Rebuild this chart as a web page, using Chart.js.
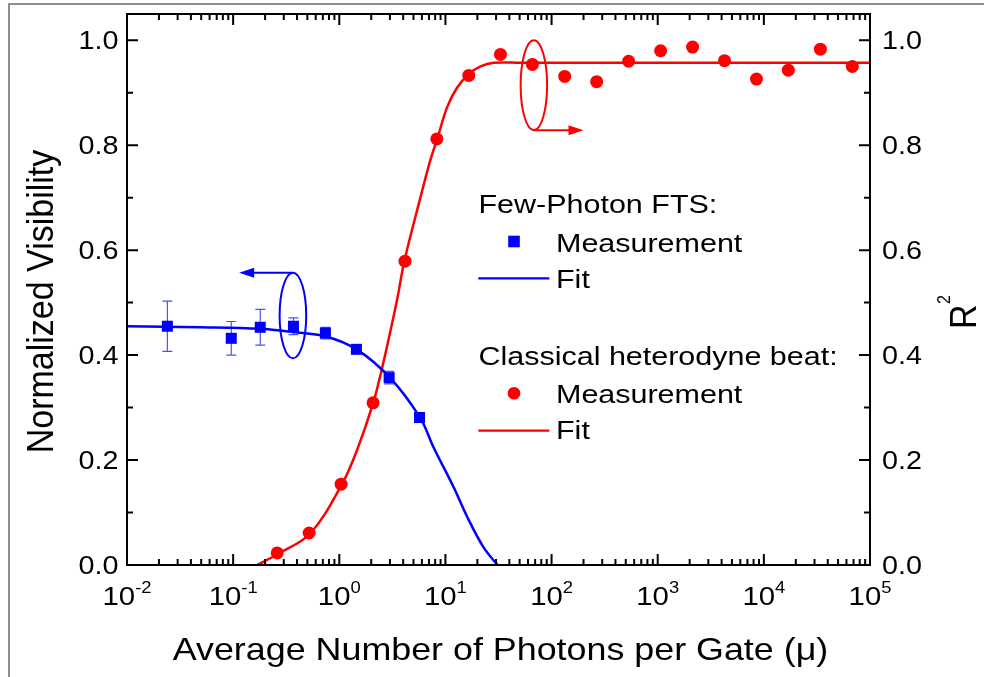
<!DOCTYPE html>
<html><head><meta charset="utf-8">
<script src="https://cdn.jsdelivr.net/npm/chart.js@4/dist/chart.umd.min.js"></script>
<style>html,body{margin:0;padding:0;background:#fff;overflow:hidden}</style>
</head><body>
<canvas id="c" width="984" height="677"></canvas>
<script>
// ---- Data ----
const blueX   = [0.024, 0.096, 0.18, 0.37, 0.74, 1.45, 2.95, 5.7];
const blueY   = [0.455, 0.432, 0.453, 0.455, 0.442, 0.411, 0.357, 0.281];
const blueErr = [0.048, 0.032, 0.034, 0.016, 0.011, 0.008, 0.012, 0.008];
const blueFitX = [0.01, 0.049, 0.18, 0.368, 0.738, 1.48, 3.03, 5.8, 7.7, 11.9, 16.1, 22.8, 30.9];
const blueFitY = [0.455, 0.453, 0.450, 0.444, 0.436, 0.410, 0.356, 0.280, 0.225, 0.149, 0.091, 0.034, 0.0];
const redX = [0.26, 0.52, 1.04, 2.08, 4.16, 8.3, 16.6, 33, 66, 133, 266, 532, 1065, 2130, 4260, 8520, 17000, 34100, 68200];
const redY = [0.023, 0.061, 0.154, 0.309, 0.579, 0.812, 0.933, 0.973, 0.954, 0.931, 0.921, 0.960, 0.980, 0.987, 0.961, 0.926, 0.943, 0.983, 0.950];
const redFitX = [0.1675, 0.264, 0.532, 1.06, 1.47, 2.08, 2.53, 3.50, 4.10, 5.81, 7.2, 8.4, 10.4, 12.9, 16.5, 21.4, 28.4, 51, 100000];
const redFitY = [0, 0.021, 0.060, 0.154, 0.219, 0.308, 0.375, 0.505, 0.579, 0.70, 0.771, 0.813, 0.873, 0.910, 0.935, 0.950, 0.957, 0.957, 0.957];

const yMajorTicks = [0, 0.2, 0.4, 0.6, 0.8, 1.0];
const yMinorTicks = [0.1, 0.3, 0.5, 0.7, 0.9];
const xDecadeExp = [-2, -1, 0, 1, 2, 3, 4, 5];
const xMinorMult = [2, 3, 4, 5, 6, 7, 8, 9];

const xTitle = 'Average Number of Photons per Gate (\u03bc)';
const yTitle = 'Normalized Visibility';
const y2Title = 'R';
const y2TitleSup = '2';
const legendBlueHead = 'Few-Photon FTS:';
const legendRedHead = 'Classical heterodyne beat:';
const legendMeas = 'Measurement';
const legendFit = 'Fit';

// annotation ellipses (data units) with arrows pointing to their axis
const blueEllipse = {xMin: 0.274, xMax: 0.488, yMin: 0.394, yMax: 0.557, arrowTo: 0.114};
const redEllipse  = {xMin: 51.1, xMax: 90.8, yMin: 0.8286, yMax: 1.0, arrowTo: 200};

const BLUE = '#0000ff', RED = '#ff0000';
const FONT = '"Liberation Sans", Arial, sans-serif';
const SX = 1.15;

function txt(ctx, s, x, y, size, align, rot, stretch, font) {
  ctx.save();
  ctx.translate(x, y);
  if (rot) { ctx.rotate(rot); ctx.scale(1, stretch); } else { ctx.scale(stretch, 1); }
  ctx.font = size + 'px ' + (font || FONT);
  ctx.textAlign = align; ctx.textBaseline = 'alphabetic';
  ctx.fillStyle = '#000';
  ctx.fillText(s, 0, 0);
  ctx.restore();
}
function tw(ctx, s, size) { ctx.save(); ctx.font = size + 'px ' + FONT; const w = ctx.measureText(s).width; ctx.restore(); return w; }

function drawArrow(ctx, x0, y, x1, color) {
  const dir = Math.sign(x1 - x0), head = 15, hw = 5;
  ctx.save();
  ctx.strokeStyle = color; ctx.fillStyle = color; ctx.lineWidth = 2;
  ctx.beginPath(); ctx.moveTo(x0, y); ctx.lineTo(x1 - dir * head + dir, y); ctx.stroke();
  ctx.beginPath(); ctx.moveTo(x1, y); ctx.lineTo(x1 - dir * head, y - hw); ctx.lineTo(x1 - dir * head, y + hw); ctx.closePath(); ctx.fill();
  ctx.restore();
}

const deco = {
  id: 'deco',
  beforeDatasetsDraw(chart) {
    const ctx = chart.ctx, xs = chart.scales.x, ys = chart.scales.y;
    ctx.save();
    ctx.strokeStyle = 'rgba(20,40,255,0.8)'; ctx.lineWidth = 1.2;
    blueX.forEach((x, i) => {
      const px = xs.getPixelForValue(x);
      const top = ys.getPixelForValue(blueY[i] + blueErr[i]);
      const bot = ys.getPixelForValue(blueY[i] - blueErr[i]);
      ctx.beginPath();
      ctx.moveTo(px, top); ctx.lineTo(px, bot);
      ctx.moveTo(px - 5, top); ctx.lineTo(px + 5, top);
      ctx.moveTo(px - 5, bot); ctx.lineTo(px + 5, bot);
      ctx.stroke();
    });
    ctx.restore();
  },
  afterDatasetsDraw(chart) {
    const ctx = chart.ctx, xs = chart.scales.x, ys = chart.scales.y, y2 = chart.scales.y2;
    [[blueEllipse, ys, BLUE], [redEllipse, y2, RED]].forEach(([e, sc, col], k) => {
      const l = xs.getPixelForValue(e.xMin), r = xs.getPixelForValue(e.xMax);
      const t = sc.getPixelForValue(e.yMax), b = sc.getPixelForValue(e.yMin);
      const cx = (l + r) / 2, cy = (t + b) / 2;
      ctx.save();
      ctx.strokeStyle = col; ctx.lineWidth = 2;
      ctx.beginPath(); ctx.ellipse(cx, cy, (r - l) / 2, (b - t) / 2, 0, 0, Math.PI * 2); ctx.stroke();
      ctx.restore();
      const ay = k === 0 ? t : b;
      drawArrow(ctx, cx, ay, xs.getPixelForValue(e.arrowTo), col);
    });
  },
  afterDraw(chart) {
    const ctx = chart.ctx, a = chart.chartArea, xs = chart.scales.x, ys = chart.scales.y, y2 = chart.scales.y2;
    ctx.save();
    // outer figure frame
    ctx.strokeStyle = '#6a6a6a'; ctx.lineWidth = 1.5;
    ctx.beginPath(); ctx.moveTo(9, 700); ctx.lineTo(9, 4); ctx.lineTo(990, 4); ctx.stroke();
    // plot frame
    ctx.strokeStyle = '#000'; ctx.lineWidth = 2;
    ctx.strokeRect(a.left, a.top, a.right - a.left, a.bottom - a.top);
    // ticks
    ctx.beginPath();
    const MAJ = 11, MIN = 6;
    yMajorTicks.forEach(v => { const p = ys.getPixelForValue(v);
      ctx.moveTo(a.left, p); ctx.lineTo(a.left + MAJ, p);
      ctx.moveTo(a.right, p); ctx.lineTo(a.right - MAJ, p); });
    yMinorTicks.forEach(v => { const p = ys.getPixelForValue(v);
      ctx.moveTo(a.left, p); ctx.lineTo(a.left + MIN, p);
      ctx.moveTo(a.right, p); ctx.lineTo(a.right - MIN, p); });
    xDecadeExp.forEach((e, i) => {
      const p = xs.getPixelForValue(Math.pow(10, e));
      ctx.moveTo(p, a.bottom); ctx.lineTo(p, a.bottom - MAJ);
      ctx.moveTo(p, a.top); ctx.lineTo(p, a.top + MAJ);
      if (i < xDecadeExp.length - 1) xMinorMult.forEach(m => {
        const q = xs.getPixelForValue(m * Math.pow(10, e));
        ctx.moveTo(q, a.bottom); ctx.lineTo(q, a.bottom - MIN);
        ctx.moveTo(q, a.top); ctx.lineTo(q, a.top + MIN);
      });
    });
    ctx.stroke();
    ctx.restore();

    // y tick labels
    const TS = 25;
    yMajorTicks.forEach(v => {
      const p = ys.getPixelForValue(v);
      txt(ctx, v.toFixed(1), a.left - 8.5, p + 9, TS, 'right', 0, SX);
      const q = y2.getPixelForValue(v);
      txt(ctx, v.toFixed(1), a.right + 12, q + 9, TS, 'left', 0, SX);
    });
    // x tick labels 10^n
    const BS = 25.5, SS = 16;
    xDecadeExp.forEach(e => {
      const p = xs.getPixelForValue(Math.pow(10, e));
      const es = String(e);
      const wb = tw(ctx, '10', BS) * SX, we = tw(ctx, es, SS) * SX;
      const start = p - (wb + we) / 2;
      txt(ctx, '10', start, 605, BS, 'left', 0, SX);
      txt(ctx, es, start + wb, 593, SS, 'left', 0, SX);
    });
    // axis titles
    txt(ctx, xTitle, (a.left + a.right) / 2 + 2, 660, 32, 'center', 0, 1.12);
    txt(ctx, yTitle, 52.5, 301.5, 34, 'center', -Math.PI / 2, 1.08);
    txt(ctx, y2Title, 976, 329, 34, 'left', -Math.PI / 2, 1.1);
    txt(ctx, y2TitleSup, 950, 329 - tw(ctx, 'R', 34) - 0.5, 16, 'left', -Math.PI / 2, 1.1);

    // legend
    const LS = 26.5;
    txt(ctx, legendBlueHead, 478.5, 213, LS, 'left', 0, SX);
    txt(ctx, legendMeas, 556, 251.7, LS, 'left', 0, SX);
    txt(ctx, legendFit, 556, 288, LS, 'left', 0, SX);
    txt(ctx, legendRedHead, 478.5, 365, LS, 'left', 0, SX);
    txt(ctx, legendMeas, 556, 402.7, LS, 'left', 0, SX);
    txt(ctx, legendFit, 556, 439, LS, 'left', 0, SX);
    ctx.save();
    ctx.fillStyle = BLUE; ctx.fillRect(514 - 5.8, 241.5 - 5.8, 11.6, 11.6);
    ctx.fillStyle = RED; ctx.beginPath(); ctx.arc(514, 393.3, 6.3, 0, Math.PI * 2); ctx.fill();
    ctx.lineWidth = 2.2;
    ctx.strokeStyle = BLUE; ctx.beginPath(); ctx.moveTo(478.3, 278.3); ctx.lineTo(549.3, 278.3); ctx.stroke();
    ctx.strokeStyle = RED; ctx.beginPath(); ctx.moveTo(478.3, 430.7); ctx.lineTo(549.3, 430.7); ctx.stroke();
    ctx.restore();
  }
};

const pts = (xa, ya) => xa.map((x, i) => ({x: x, y: ya[i]}));

new Chart(document.getElementById('c'), {
  type: 'scatter',
  data: {
    datasets: [
      {label: 'Few-Photon FTS Fit', data: pts(blueFitX, blueFitY), showLine: true, borderColor: BLUE,
       borderWidth: 2.5, pointRadius: 0, tension: 0.35, yAxisID: 'y'},
      {label: 'Classical heterodyne beat Fit', data: pts(redFitX, redFitY), showLine: true, borderColor: RED,
       borderWidth: 2.5, pointRadius: 0, tension: 0.35, yAxisID: 'y2'},
      {label: 'Few-Photon FTS Measurement', data: pts(blueX, blueY), showLine: false, pointStyle: 'rect',
       pointRadius: 7.8, backgroundColor: BLUE, borderWidth: 0, yAxisID: 'y'},
      {label: 'Classical heterodyne beat Measurement', data: pts(redX, redY), showLine: false, pointStyle: 'circle',
       pointRadius: 6.5, backgroundColor: RED, borderWidth: 0, yAxisID: 'y2'}
    ]
  },
  options: {
    responsive: false, animation: false, devicePixelRatio: 1,
    layout: {padding: {top: 14, left: 0, right: 0, bottom: 0}},
    plugins: {legend: {display: false}, tooltip: {enabled: false}},
    scales: {
      x: {type: 'logarithmic', min: 0.01, max: 100000, position: 'bottom',
          grid: {display: false, drawTicks: false}, border: {display: false}, ticks: {display: false},
          afterFit(s) { s.height = 112; }},
      y: {type: 'linear', min: 0, max: 1.05, position: 'left',
          grid: {display: false, drawTicks: false}, border: {display: false}, ticks: {display: false},
          afterFit(s) { s.width = 127; }},
      y2: {type: 'linear', min: 0, max: 1.05, position: 'right',
          grid: {display: false, drawTicks: false}, border: {display: false}, ticks: {display: false},
          afterFit(s) { s.width = 114; }}
    }
  },
  plugins: [deco]
});
</script>
</body></html>
